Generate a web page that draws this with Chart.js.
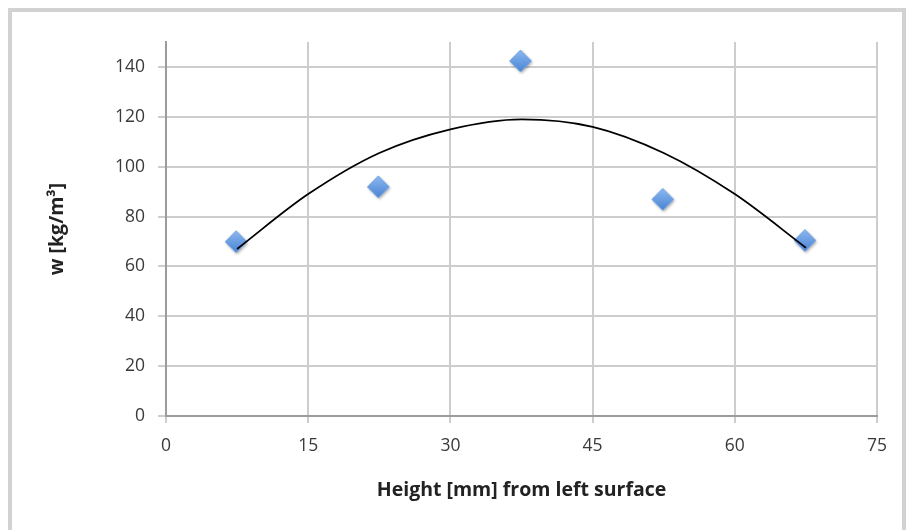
<!DOCTYPE html>
<html>
<head>
<meta charset="utf-8">
<script src="https://cdn.jsdelivr.net/npm/chart.js@4.4.1/dist/chart.umd.min.js"></script>
<style>
  html, body { margin: 0; padding: 0; background: #fff; }
  #wrap { width: 908px; height: 530px; }
</style>
</head>
<body>
<div id="wrap"><canvas id="chart" width="908" height="530"></canvas></div>
<script>
// measured points
const heights = [7.5, 22.5, 37.5, 52.5, 67.5];
const wValues = [69.5, 91.5, 142, 86.5, 70];
// trend curve
const trendX = [7.5, 15, 22.5, 30, 37.5, 45, 52.5, 60, 67.5];
const trendY = [67, 89, 105.5, 115, 119, 116, 105.5, 89, 67.5];
const xTicks = [0, 15, 30, 45, 60, 75];
const yTicks = [0, 20, 40, 60, 80, 100, 120, 140];

// diamond marker with a soft shadow
function makeDiamond() {
    var c = document.createElement('canvas');
    c.width = 32; c.height = 32;
    var g = c.getContext('2d');
    var cx = 15, cy = 15, r = 11;
    g.shadowColor = 'rgba(0,0,0,0.35)';
    g.shadowBlur = 3;
    g.shadowOffsetX = 1;
    g.shadowOffsetY = 1.5;
    var grad = g.createLinearGradient(0, cy - r, 0, cy + r);
    grad.addColorStop(0, '#8cb8f0');
    grad.addColorStop(1, '#4a84d4');
    g.fillStyle = grad;
    g.beginPath();
    g.moveTo(cx, cy - r);
    g.lineTo(cx + r, cy);
    g.lineTo(cx, cy + r);
    g.lineTo(cx - r, cy);
    g.closePath();
    g.fill();
    g.shadowColor = 'transparent';
    g.strokeStyle = '#78a6e2';
    g.lineWidth = 1;
    g.stroke();
    return c;
}

const framePlugin = {
    id: 'frame',
    beforeDraw(chart) {
        const ctx = chart.ctx;
        ctx.save();
        ctx.fillStyle = '#fff';
        ctx.fillRect(0, 0, chart.width, chart.height);
        ctx.strokeStyle = '#d2d2d2';
        ctx.lineWidth = 4;
        ctx.strokeRect(10, 10, 894, 540);
        ctx.restore();
    }
};

const tickFont = { family: '"Open Sans", sans-serif', size: 17.5 };
const titleFont = { family: '"Open Sans", sans-serif', size: 19.5, weight: 'bold' };

new Chart(document.getElementById('chart'), {
    type: 'scatter',
    data: {
        datasets: [{
            label: 'w',
            data: heights.map((x, i) => ({ x: x, y: wValues[i] })),
            pointStyle: makeDiamond(),
            pointRadius: 11,
            order: 1
        }, {
            label: 'trend',
            data: trendX.map((x, i) => ({ x: x, y: trendY[i] })),
            showLine: true,
            borderColor: '#000',
            borderWidth: 1.8,
            pointRadius: 0,
            tension: 0.4,
            cubicInterpolationMode: 'monotone',
            order: 0
        }]
    },
    options: {
        responsive: false,
        animation: false,
        layout: { padding: { left: 0, right: 31, top: 42, bottom: 0 } },
        plugins: { legend: { display: false }, tooltip: { enabled: false } },
        scales: {
            x: {
                type: 'linear',
                min: 0, max: 75,
                afterBuildTicks: (s) => { s.ticks = xTicks.map(v => ({ value: v })); },
                afterFit: (s) => { s.height = 114; },
                grid: { color: '#cdcdcd', lineWidth: 2, tickLength: 7, tickColor: '#cdcdcd' },
                border: { color: '#9c9c9c', width: 2 },
                ticks: { font: tickFont, color: '#3a3a3a', padding: 13, maxRotation: 0 },
                title: {
                    display: true,
                    text: 'Height [mm] from left surface',
                    font: titleFont,
                    color: '#222',
                    padding: { top: 0, bottom: 28 }
                }
            },
            y: {
                type: 'linear',
                min: 0, max: 150,
                afterBuildTicks: (s) => { s.ticks = yTicks.map(v => ({ value: v })); },
                afterFit: (s) => { s.width = 166; },
                grid: { color: '#cdcdcd', lineWidth: 2, tickLength: 8, tickColor: '#cdcdcd' },
                border: { color: '#9c9c9c', width: 2 },
                ticks: { font: tickFont, color: '#3a3a3a', padding: 13 },
                title: {
                    display: true,
                    text: 'w [kg/m³]',
                    font: titleFont,
                    color: '#222',
                    padding: { top: 46, bottom: 0 }
                }
            }
        }
    },
    plugins: [framePlugin]
});
</script>
</body>
</html>
